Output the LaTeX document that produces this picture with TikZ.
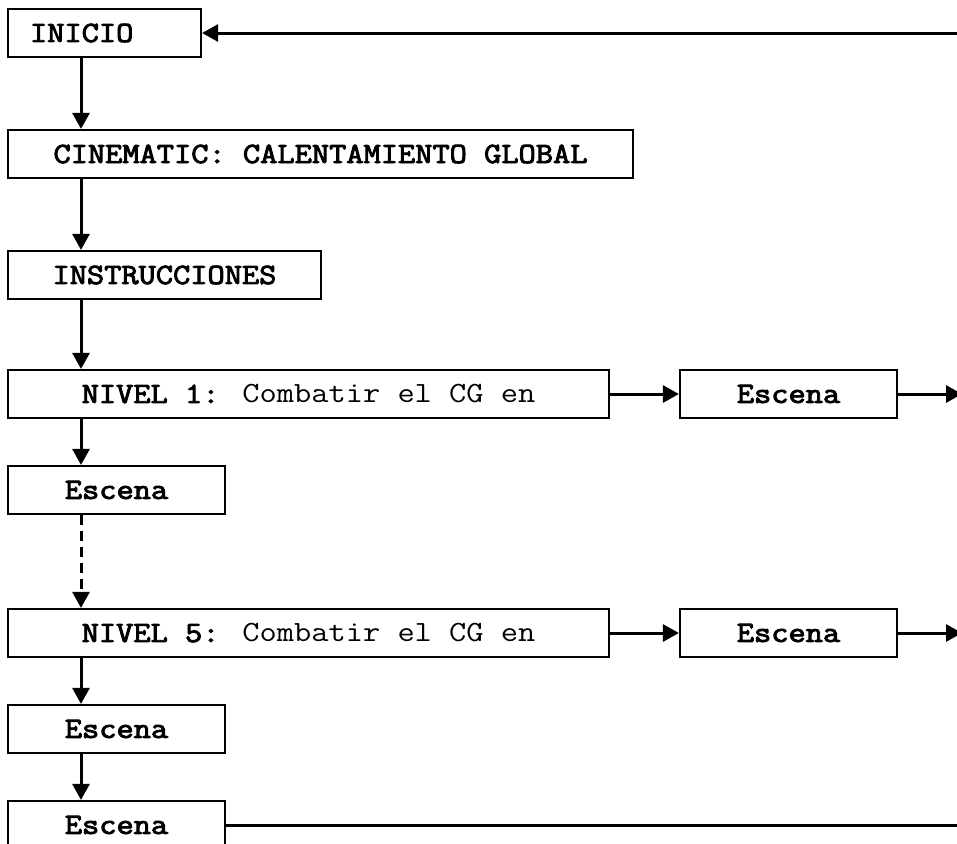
\documentclass[tikz,border=0pt]{standalone}
\usepackage{fontspec}
\setmainfont{Latin Modern Mono}[FakeStretch=1.14,
    BoldFont={Latin Modern Mono}, BoldFeatures={FakeBold=3.2}]
\usepackage{tikz}
\usetikzlibrary{arrows.meta,positioning,calc}

\begin{document}
\begin{tikzpicture}[x=0.02cm, y=-0.02cm,
        >={Triangle[length=0.32cm,width=0.34cm]},
        box/.style={draw, line width=0.045cm, minimum height=0.96cm, inner sep=0pt,
            font=\fontsize{16.7}{20}\selectfont},
        flow/.style={->, line width=0.06cm}]
            \useasboundingbox (0,0) rectangle (957,843);
            \clip (0,0) rectangle (957,843);

            \node[box, text width=2.98cm, inner xsep=0.44cm, align=left] (inicio) at (104.5,33) {\textbf{INICIO}};
            \node[box, minimum width=12.5cm] (cine) at (320.5,154) {\textbf{CINEMATIC: CALENTAMIENTO GLOBAL}};
            \node[box, minimum width=6.26cm] (instr) at (164.5,275) {\textbf{INSTRUCCIONES}};
            \node[box, minimum width=12.02cm] (niv1) at (308.5,394) {\textbf{NIVEL 1:} Combatir el CG en};
            \node[box, minimum width=4.34cm] (esc1r) at (788.5,394) {\textbf{Escena}};
            \node[box, minimum width=4.34cm] (esc1) at (116.5,490) {\textbf{Escena}};
            \node[box, minimum width=12.02cm] (niv5) at (308.5,633) {\textbf{NIVEL 5:} Combatir el CG en};
            \node[box, minimum width=4.34cm] (esc5r) at (788.5,633) {\textbf{Escena}};
            \node[box, minimum width=4.34cm] (esc5a) at (116.5,729) {\textbf{Escena}};
            \node[box, minimum width=4.34cm] (esc5b) at (116.5,825) {\textbf{Escena}};

            \coordinate (axis) at (81,0);
            \coordinate (back) at (957,33);
            \coordinate (out1) at (962,394);
            \coordinate (out5) at (962,633);
            \coordinate (fin) at (957,825);

            \draw[flow] (inicio.south -| axis) -- (cine.north -| axis);
            \draw[flow] (cine.south -| axis) -- (instr.north -| axis);
            \draw[flow] (instr.south -| axis) -- (niv1.north -| axis);
            \draw[flow] (niv1.south -| axis) -- (esc1.north -| axis);
            \draw[flow, dash pattern=on 0.2cm off 0.12cm] (esc1.south -| axis) -- (niv5.north -| axis);
            \draw[flow] (niv5.south -| axis) -- (esc5a.north -| axis);
            \draw[flow] (esc5a.south -| axis) -- (esc5b.north -| axis);

            \draw[flow] (niv1) -- (esc1r);
            \draw[flow] (esc1r) -- (out1);
            \draw[flow] (niv5) -- (esc5r);
            \draw[flow] (esc5r) -- (out5);

            \draw[flow] (back) -- (inicio);
            \draw[line width=0.06cm] (esc5b) -- (fin);
        \end{tikzpicture}
\end{document}
